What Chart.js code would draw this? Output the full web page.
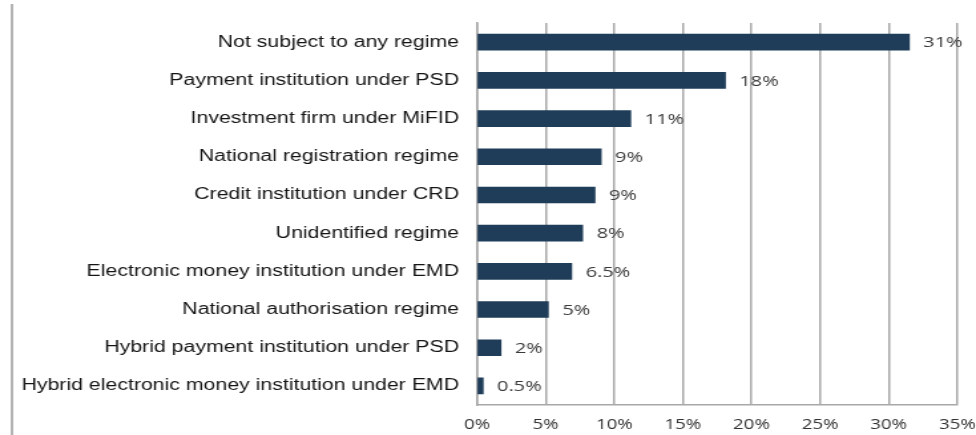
<!DOCTYPE html>
<html>
<head>
<meta charset="utf-8">
<script src="https://cdn.jsdelivr.net/npm/chart.js@4"></script>
<style>
    body { margin: 0; background: #ffffff; }
</style>
</head>
<body>
<!-- the reference is stretched sideways, so the canvas is drawn narrower and widened by CSS -->
<canvas id="chart" width="734" height="435" style="width: 976px; height: 435px; display: block;"></canvas>
<script>
const categories = [
    'Not subject to any regime',
    'Payment institution under PSD',
    'Investment firm under MiFID',
    'National registration regime',
    'Credit institution under CRD',
    'Unidentified regime',
    'Electronic money institution under EMD',
    'National authorisation regime',
    'Hybrid payment institution under PSD',
    'Hybrid electronic money institution under EMD'
];
const shares = [31.5, 18.1, 11.2, 9.05, 8.6, 7.7, 6.9, 5.2, 1.75, 0.45];
const shareLabels = ['31%', '18%', '11%', '9%', '9%', '8%', '6.5%', '5%', '2%', '0.5%'];
const xTicks = [0, 5, 10, 15, 20, 25, 30, 35];

const valueLabelPlugin = {
    id: 'valueLabels',
    afterDatasetsDraw: function(chart) {
        const ctx = chart.ctx;
        const bars = chart.getDatasetMeta(0).data;
        ctx.save();
        ctx.font = '15px "Open Sans"';
        ctx.fillStyle = '#3a3a3a';
        ctx.textAlign = 'left';
        ctx.textBaseline = 'middle';
        bars.forEach(function(bar, i) {
            ctx.fillText(shareLabels[i], bar.x + 10.5, bar.y + 1);
        });
        ctx.restore();
    }
};

const framePlugin = {
    id: 'frame',
    beforeDraw: function(chart) {
        const ctx = chart.ctx;
        ctx.save();
        ctx.strokeStyle = '#9a9a9a';
        ctx.lineWidth = 1.5;
        ctx.beginPath();
        ctx.moveTo(9, 4);
        ctx.lineTo(9, chart.height);
        ctx.stroke();
        ctx.restore();
    }
};

new Chart(document.getElementById('chart'), {
    type: 'bar',
    data: {
        labels: categories,
        datasets: [{
            data: shares,
            backgroundColor: '#1f3d59',
            borderWidth: 0,
            barThickness: 16
        }]
    },
    options: {
        indexAxis: 'y',
        responsive: false,
        animation: false,
        layout: { padding: { left: 0, right: 0, top: 15, bottom: 0 } },
        plugins: {
            legend: { display: false },
            tooltip: { enabled: false }
        },
        scales: {
            x: {
                min: 0,
                max: 35,
                afterBuildTicks: function(scale) {
                    scale.ticks = xTicks.map(function(v) { return { value: v }; });
                },
                afterFit: function(scale) {
                    scale.height = 30;
                    scale.paddingRight = 14;
                },
                grid: {
                    color: '#a8a8a8',
                    lineWidth: 1.5,
                    drawTicks: false
                },
                border: { color: '#a8a8a8', width: 1.5 },
                ticks: {
                    padding: 12,
                    color: '#333333',
                    font: { family: '"Open Sans"', size: 14 },
                    callback: function(v) { return v + '%'; }
                }
            },
            y: {
                afterFit: function(scale) { scale.width = 358.7; },
                grid: { display: false, drawTicks: false },
                border: { color: '#a8a8a8', width: 1.5 },
                ticks: {
                    padding: 13.5,
                    color: '#151515',
                    font: { family: '"Liberation Sans", Arial, sans-serif', size: 16 }
                }
            }
        }
    },
    plugins: [framePlugin, valueLabelPlugin]
});
</script>
</body>
</html>
